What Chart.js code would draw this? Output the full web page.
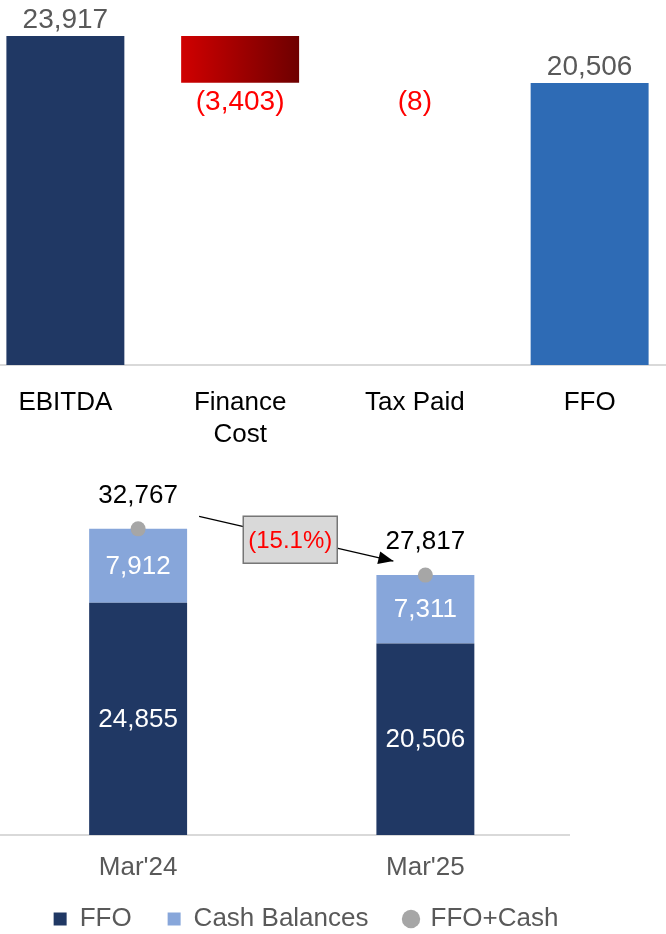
<!DOCTYPE html>
<html>
<head>
<meta charset="utf-8">
<script src="https://cdn.jsdelivr.net/npm/chart.js@4.4.1/dist/chart.umd.min.js"></script>
<style>
  html, body { margin: 0; padding: 0; background: #fff; }
  body { width: 666px; height: 934px; position: relative; overflow: hidden; }
  #bridge { position: absolute; left: -22px; top: 0; }
  #cash { position: absolute; left: -13px; top: 460px; }
</style>
</head>
<body>
<canvas id="bridge" width="699" height="460"></canvas>
<canvas id="cash" width="638" height="482"></canvas>
<script>
// top chart: EBITDA to FFO bridge
var bridgeLabels = ['EBITDA', ['Finance', 'Cost'], 'Tax Paid', 'FFO'];
var bridgeValues = [23917, -3403, -8, 20506];
var bridgeIsTotal = [true, false, false, true];

// bottom chart: FFO + cash
var periods = ["Mar'24", "Mar'25"];
var ffo = [24855, 20506];
var cashBalances = [7912, 7311];
var ffoPlusCash = [32767, 27817];

var family = "'Liberation Sans', Arial, sans-serif";
Chart.defaults.font.family = family;

function fmt(n) {
  var s = Math.abs(n).toLocaleString('en-US');
  return n < 0 ? '(' + s + ')' : s;
}

// floating ranges for the waterfall
var running = 0;
var bridgeRanges = bridgeValues.map(function (v, i) {
  if (bridgeIsTotal[i]) { running = v; return [0, v]; }
  var r = [running + v, running];
  running += v;
  return r;
});

var bridgeLabelsPlugin = {
  id: 'bridgeLabels',
  afterDatasetsDraw: function (chart) {
    var ctx = chart.ctx;
    var meta = chart.getDatasetMeta(0);
    ctx.save();
    ctx.font = '28px ' + family;
    ctx.textAlign = 'center';
    ctx.textBaseline = 'alphabetic';
    meta.data.forEach(function (bar, i) {
      var v = bridgeValues[i];
      var top = Math.min(bar.y, bar.base), bottom = Math.max(bar.y, bar.base);
      if (v >= 0) {
        ctx.fillStyle = '#595959';
        ctx.fillText(fmt(v), bar.x, top - 8);
      } else {
        ctx.fillStyle = '#ff0000';
        ctx.fillText(fmt(v), bar.x, bottom + 27);
      }
    });
    ctx.restore();
  }
};

new Chart(document.getElementById('bridge'), {
  type: 'bar',
  data: {
    labels: bridgeLabels,
    datasets: [{
      data: bridgeRanges,
      barPercentage: 0.675,
      categoryPercentage: 1,
      backgroundColor: function (c) {
        var i = c.dataIndex;
        if (bridgeIsTotal[i]) return i === 0 ? '#203864' : '#2e6bb5';
        var chart = c.chart, xs = chart.scales.x, ys = chart.scales.y;
        if (!xs || !chart.chartArea) return '#b00000';
        // sub-pixel steps are not drawn
        var r = bridgeRanges[i];
        if (Math.abs(ys.getPixelForValue(r[0]) - ys.getPixelForValue(r[1])) < 1) return 'rgba(0,0,0,0)';
        var cx = xs.getPixelForValue(i);
        var half = xs.width / bridgeValues.length * 0.675 / 2;
        var g = chart.ctx.createLinearGradient(cx - half, 0, cx + half, 0);
        g.addColorStop(0, '#d00000');
        g.addColorStop(1, '#6e0000');
        return g;
      }
    }]
  },
  options: {
    responsive: false,
    animation: false,
    devicePixelRatio: 1,
    layout: { padding: { top: 36 } },
    plugins: { legend: { display: false }, tooltip: { enabled: false } },
    scales: {
      x: {
        grid: { display: false, drawTicks: false },
        border: { display: true, color: '#d9d9d9', width: 2 },
        ticks: { color: '#000', font: { size: 26, lineHeight: 1.23 }, padding: 22, maxRotation: 0, autoSkip: false },
        afterFit: function (s) { s.height = 95; }
      },
      y: { display: false, min: 0, max: 23917 }
    }
  },
  plugins: [bridgeLabelsPlugin]
});

var cashLabelsPlugin = {
  id: 'cashLabels',
  afterDatasetsDraw: function (chart) {
    var ctx = chart.ctx;
    ctx.save();
    ctx.textAlign = 'center';
    ctx.textBaseline = 'middle';
    ctx.font = '26px ' + family;
    // segment values
    [ffo, cashBalances].forEach(function (arr, d) {
      chart.getDatasetMeta(d).data.forEach(function (bar, i) {
        ctx.fillStyle = '#fff';
        ctx.fillText(fmt(arr[i]), bar.x, (bar.y + bar.base) / 2 + 1);
      });
    });
    // totals
    var pts = chart.getDatasetMeta(2).data;
    pts.forEach(function (p, i) {
      ctx.fillStyle = '#000';
      ctx.fillText(fmt(ffoPlusCash[i]), p.x, p.y - 33);
    });
    // change arrow with box
    var x0 = pts[0].x + 61, y0 = pts[0].y - 12.5;
    var x1 = pts[1].x - 32, y1 = pts[1].y - 14;
    ctx.strokeStyle = '#000';
    ctx.lineWidth = 1.2;
    ctx.beginPath();
    ctx.moveTo(x0, y0);
    ctx.lineTo(x1, y1);
    ctx.stroke();
    var ang = Math.atan2(y1 - y0, x1 - x0);
    var len = 15, wid = 6.5;
    ctx.fillStyle = '#000';
    ctx.beginPath();
    ctx.moveTo(x1, y1);
    ctx.lineTo(x1 - len * Math.cos(ang) + wid * Math.sin(ang), y1 - len * Math.sin(ang) - wid * Math.cos(ang));
    ctx.lineTo(x1 - len * Math.cos(ang) - wid * Math.sin(ang), y1 - len * Math.sin(ang) + wid * Math.cos(ang));
    ctx.closePath();
    ctx.fill();
    var bx = (x0 + x1) / 2 - 6, by = (y0 + y1) / 2 + 1;
    ctx.fillStyle = '#d9d9d9';
    ctx.fillRect(bx - 47, by - 23.5, 94, 47);
    ctx.strokeStyle = '#767676';
    ctx.lineWidth = 1.5;
    ctx.strokeRect(bx - 47, by - 23.5, 94, 47);
    var pct = (ffoPlusCash[1] / ffoPlusCash[0] - 1) * 100;
    var pctText = pct < 0 ? '(' + Math.abs(pct).toFixed(1) + '%)' : pct.toFixed(1) + '%';
    ctx.fillStyle = '#ff0000';
    ctx.font = '24px ' + family;
    ctx.fillText(pctText, bx, by + 2);
    ctx.restore();
  }
};

new Chart(document.getElementById('cash'), {
  type: 'bar',
  data: {
    labels: periods,
    datasets: [
      { label: 'FFO', data: ffo, backgroundColor: '#203864', pointStyle: 'rect', stack: 's', order: 1,
        barPercentage: 0.341, categoryPercentage: 1 },
      { label: 'Cash Balances', data: cashBalances, backgroundColor: '#87a6da', pointStyle: 'rect', stack: 's', order: 1,
        barPercentage: 0.341, categoryPercentage: 1 },
      { type: 'line', label: 'FFO+Cash', data: ffoPlusCash, showLine: false, pointStyle: 'circle',
        pointRadius: 7.5, backgroundColor: '#a6a6a6', borderColor: '#a6a6a6', borderWidth: 0,
        pointBorderWidth: 0, stack: 'total', order: 0 }
    ]
  },
  options: {
    responsive: false,
    animation: false,
    devicePixelRatio: 1,
    layout: { padding: { top: 48 } },
    plugins: {
      tooltip: { enabled: false },
      legend: {
        position: 'bottom',
        labels: {
          usePointStyle: true, boxWidth: 13, boxHeight: 13, padding: 36,
          color: '#595959', font: { size: 26 },
          sort: function (a, b) { return a.datasetIndex - b.datasetIndex; }
        }
      }
    },
    scales: {
      x: {
        stacked: true,
        grid: { display: false, drawTicks: false },
        border: { display: true, color: '#d9d9d9', width: 2 },
        // mirrored ticks are not clipped to the (short) axis box
        ticks: { color: '#595959', font: { size: 26 }, mirror: true, padding: -48.6 },
        afterFit: function (s) { s.height = 35; }
      },
      y: { stacked: true, display: false, min: 0, max: 35000 },
      pad: {
        position: 'right', display: true,
        grid: { display: false }, border: { display: false }, ticks: { display: false },
        afterFit: function (s) { s.width = 56; }
      }
    }
  },
  plugins: [cashLabelsPlugin]
});
</script>
</body>
</html>
